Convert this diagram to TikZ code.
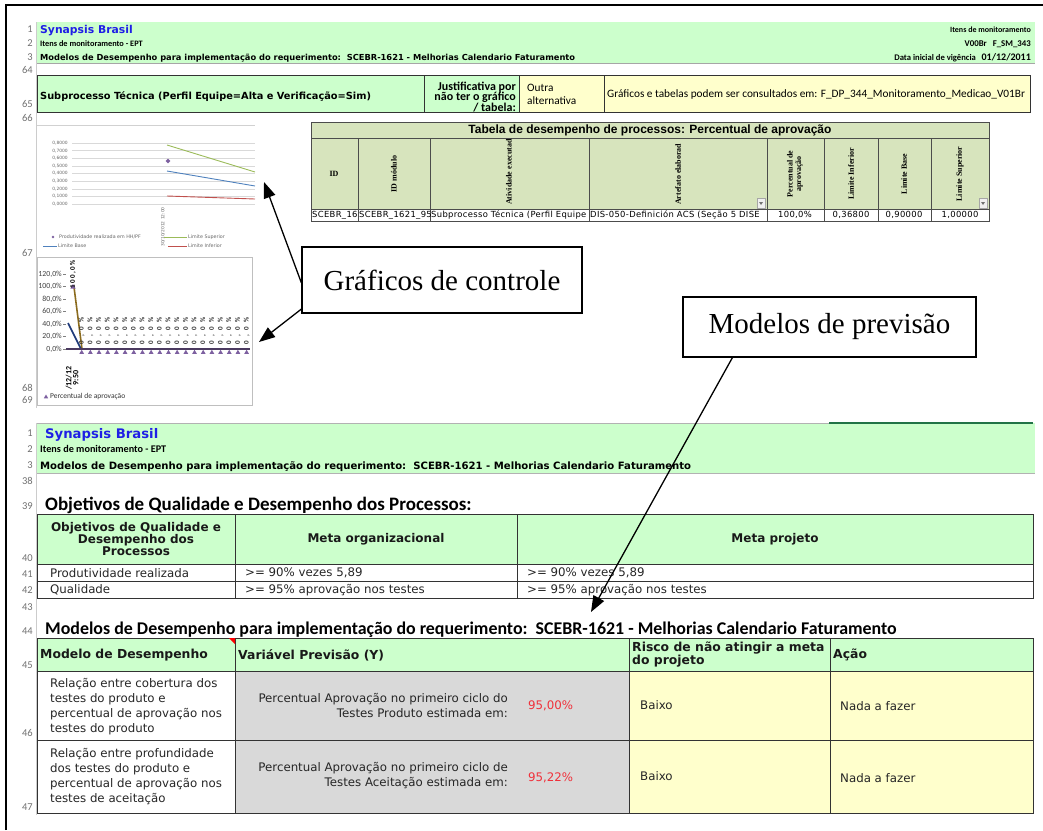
\documentclass[tikz,border=0pt]{standalone}
\usepackage{fontspec}
\setmainfont{DejaVu Sans}
\newfontfamily\calfont{Carlito}
\newfontfamily\arialfont{Liberation Sans}
\newfontfamily\timesfont{Liberation Serif}
\usetikzlibrary{arrows.meta,positioning,calc,shapes.geometric}

\definecolor{xlgreen}{HTML}{CCFFCC}
\definecolor{xlyellow}{HTML}{FFFFCC}
\definecolor{xlgrey}{HTML}{D9D9D9}
\definecolor{tabgreen}{HTML}{D7E4BD}
\definecolor{synblue}{HTML}{1F1FE6}
\definecolor{xlred}{HTML}{F0303A}
\definecolor{rowgrey}{HTML}{707070}
\definecolor{selgreen}{HTML}{217346}
\definecolor{limsup}{HTML}{9BBB59}
\definecolor{limbase}{HTML}{4F81BD}
\definecolor{liminf}{HTML}{C0504D}
\definecolor{prodpt}{HTML}{7D60A0}
\definecolor{oliveln}{HTML}{8B6B1E}
\definecolor{navyln}{HTML}{1F3A7A}

\newcommand{\fsz}[2]{\fontsize{#1}{#2}\selectfont}

\tikzset{
  rownr/.style={anchor=east,inner sep=0pt,text=rowgrey,font=\calfont\fsz{10.5}{11}},
  hdtext/.style={anchor=base west,inner sep=0pt},
  celltext/.style={anchor=west,inner sep=0pt,text=black!85,font=\fsz{11.8}{15}},
  cellhead/.style={inner sep=0pt,text=black!90,font=\bfseries\fsz{12}{12}},
  cellline/.style={draw=black!80,line width=0.8pt},
  rothead/.style={rotate=90,inner sep=0pt,font=\timesfont\bfseries\fsz{8}{8.5}},
  datacell/.style={inner sep=0pt,font=\fsz{8.4}{9}\addfontfeature{LetterSpace=4}},
  callout/.style={draw,line width=1.1pt,fill=white,inner sep=0pt,font=\timesfont\fsz{29}{34}},
  pointer/.style={-{Triangle[length=16pt,width=12pt]},line width=1.3pt},
  gridln/.style={draw=black!15,line width=0.4pt},
  tri/.style={regular polygon,regular polygon sides=3,fill=prodpt,inner sep=0pt,minimum size=6pt},
}

\begin{document}
\begin{tikzpicture}[x=1pt,y=-1pt]
\useasboundingbox (0,0) rectangle (1043,830);

% frame of the page
\draw[line width=2.6pt] (6,830) -- (6,5) -- (1043,5);
\draw[black!20] (36,22) -- (36,408) (36,423) -- (36,815);

% first sheet: header
\fill[xlgreen] (37,22) rectangle (1035,63);
\draw[black!35] (37,63) -- (1035,63);
\node[hdtext,text=synblue,font=\bfseries\fsz{10.8}{12}] (titA) at (40,33) {Synapsis Brasil};
\node[hdtext,font=\calfont\bfseries\fsz{8.3}{9}] (itA) at (40,46.5) {Itens de monitoramento - EPT};
\node[hdtext,font=\bfseries\fsz{8.3}{9}] (modA) at (40,60) {Modelos de Desempenho para implementação do requerimento:\ \ SCEBR-1621 - Melhorias Calendario Faturamento};
\node[anchor=base east,inner sep=0pt,font=\calfont\bfseries\fsz{8}{9}] (itR) at (1031,32.5) {Itens de monitoramento};
\node[anchor=base east,inner sep=0pt,font=\calfont\bfseries\fsz{8.8}{9}] (verR) at (1031,46.5) {V00Br\ \ \ F\_SM\_343};
\node[anchor=base east,inner sep=0pt,font=\calfont\bfseries\fsz{8.6}{9}] (dataR) at (1031,60) {Data inicial de vigência\ \ \ {\fsz{10}{10}01/12/2011}};

\foreach \n/\y [count=\i] in {1/29,2/43,3/57,64/70,65/104,66/118,67/253,68/388,69/400}
  \node[rownr] (ra\i) at (33,\y) {\n};

% row 65
\fill[xlgreen] (37,75) rectangle (519,112);
\fill[xlyellow] (519,75) rectangle (1030,112);
\draw[cellline] (37,75) rectangle (1030,112);
\draw[cellline] (424,75) -- (424,112) (519,75) -- (519,112) (604,75) -- (604,112);
\node[anchor=west,inner sep=0pt,font=\bfseries\fsz{9.8}{11}] (subA) at (40,97) {Subprocesso Técnica (Perfil Equipe=Alta e Verificação=Sim)};
\node[anchor=east,align=right,inner sep=0pt,font=\calfont\bfseries\fsz{12}{10.6}] (justA) at (516,97) {Justificativa por\\não ter o gráfico\\/ tabela:};
\node[anchor=west,align=left,inner sep=0pt,font=\calfont\fsz{11.3}{13}] (outA) at (527,94) {Outra\\alternativa};
\node[anchor=west,inner sep=0pt,font=\calfont\fsz{11.3}{12}] (grafA) at (607,94) {Gráficos e tabelas podem ser consultados em: F\_DP\_344\_Monitoramento\_Medicao\_V01Br};

% chart of productivity
\draw[black!18] (37,125) -- (255,125);
\foreach \k in {0,...,8}{
  \pgfmathsetmacro\yy{204-\k*7.625}
  \draw[gridln] (72,\yy) -- (255,\yy);
  \node[anchor=east,inner sep=0pt,text=black!60,font=\fsz{4.4}{5}] (ya\k) at (68,\yy) {0,\k000};
}
\draw[limsup,line width=0.9pt] (167,145) -- (255,172);
\draw[limbase,line width=0.9pt] (167,171) -- (255,186);
\draw[liminf,line width=0.9pt] (167,196) -- (255,199);
\node[diamond,fill=prodpt,inner sep=0pt,minimum size=5pt] (prodA) at (168,161) {};
\node[rotate=90,inner sep=0pt,text=black!60,font=\fsz{4.4}{5}] (dtA) at (163,227) {30/10/2012 12:00};
\node[diamond,fill=prodpt,inner sep=0pt,minimum size=3pt] (lgA) at (53,237) {};
\node[anchor=west,inner sep=0pt,text=black!60,font=\fsz{4.8}{5}] (lgAt) at (59,237) {Produtividade realizada em HH/PF};
\draw[limsup,line width=0.9pt] (164,237) -- (187,237);
\node[anchor=west,inner sep=0pt,text=black!60,font=\fsz{4.8}{5}] (lgBt) at (188,237) {Limite Superior};
\draw[limbase,line width=0.9pt] (43,246) -- (57,246);
\node[anchor=west,inner sep=0pt,text=black!60,font=\fsz{4.8}{5}] (lgCt) at (58,246) {Limite Base};
\draw[liminf,line width=0.9pt] (168,246) -- (187,246);
\node[anchor=west,inner sep=0pt,text=black!60,font=\fsz{4.8}{5}] (lgDt) at (188,246) {Limite Inferior};

% chart of approval
\draw[black!25] (37,257) rectangle (252,405);
\foreach \k in {0,...,6}{
  \pgfmathsetmacro\yy{349-\k*12.5}
  \pgfmathtruncatemacro\pc{\k*20}
  \node[anchor=east,inner sep=0pt,text=black!75,font=\calfont\fsz{7.8}{8}] (yb\k) at (62,\yy) {\pc,0\%};
  \draw[black!50] (63,\yy) -- (66,\yy);
}
\draw[oliveln,line width=1.6pt] (74,287) -- (82,349);
\draw[navyln,line width=1.6pt] (68,323) -- (81,349);
\draw[prodpt!60!black,line width=1.4pt] (66,349) -- (250,349);
\node[tri] (pa0) at (73,287) {};
\node[rotate=90,inner sep=0pt,font=\calfont\bfseries\fsz{7}{8}\addfontfeature{LetterSpace=20}] (lb0) at (73,274) {100,0\%};
\foreach \i in {1,...,20}{
  \pgfmathsetmacro\xx{73+\i*8.68}
  \node[tri,minimum size=5.5pt] (pa\i) at (\xx,352.5) {};
  \node[rotate=90,inner sep=0pt,text=black!80,font=\calfont\bfseries\fsz{7}{8}\addfontfeature{LetterSpace=60}] (lb\i) at (\xx,331) {0,0\%};
}
\node[rotate=90,align=center,inner sep=0pt,font=\calfont\bfseries\fsz{8}{7}] (xb) at (72,378) {/12/12\\9:50};
\node[tri,minimum size=5pt] (lgtri) at (46,397) {};
\node[anchor=west,inner sep=0pt,text=black!80,font=\calfont\fsz{7.5}{9}] (lgtxt) at (50,397) {Percentual de aprovação};

% table of performance
\fill[tabgreen] (311,122) rectangle (989,209);
\draw[black!70,line width=0.6pt] (311,122) rectangle (989,221);
\draw[black!70,line width=0.6pt] (311,138) -- (989,138) (311,209) -- (989,209);
\foreach \x in {358,430,589,767,824,878,931}
  \draw[black!70,line width=0.6pt] (\x,138) -- (\x,221);
\node[inner sep=0pt,font=\arialfont\bfseries\fsz{12}{13}] (tabT) at (650,130) {Tabela de desempenho de processos: Percentual de aprovação};
\node[inner sep=0pt,font=\timesfont\bfseries\fsz{8}{8.5}] (hID) at (334,174) {ID};
\node[rothead] (hMod) at (394,174) {ID módulo};
\node[rothead,anchor=west] (hAtv) at (509,205) {Atividade executad};
\node[rothead,anchor=west] (hArt) at (678,205) {Artefato elaborad};
\node[rothead,align=center] (hPct) at (795,174) {Percentual de\\aprovação};
\node[rothead] (hInf) at (851,174) {Limite Inferior};
\node[rothead] (hBas) at (904,174) {Limite Base};
\node[rothead] (hSup) at (960,174) {Limite Superior};
\foreach \x in {766,988}{
  \draw[fill=black!6,draw=black!35] (\x-9,198) rectangle (\x-1,208);
  \fill[black!55] (\x-7,202) -- (\x-3,202) -- (\x-5,205) -- cycle;
}
\node[datacell,anchor=west] (dID) at (312,215) {SCEBR\_16};
\node[datacell,anchor=west] (dMod) at (359,215) {SCEBR\_1621\_95};
\node[datacell,anchor=west] (dAtv) at (431,215) {Subprocesso Técnica (Perfil Equipe};
\node[datacell,anchor=west] (dArt) at (590,215) {DIS-050-Definición ACS (Seção 5 DISE};
\node[datacell] (dPct) at (795,215) {100,0\%};
\node[datacell] (dInf) at (851,215) {0,36800};
\node[datacell] (dBas) at (904,215) {0,90000};
\node[datacell] (dSup) at (960,215) {1,00000};

% second sheet: header
\fill[xlgreen] (37,423) rectangle (1035,473);
\draw[black!30] (37,423) -- (829,423) (37,473) -- (1035,473);
\draw[selgreen,line width=1.6pt] (829,423) -- (1033,423);
\node[hdtext,text=synblue,font=\bfseries\fsz{13.2}{14}] (titB) at (45,438) {Synapsis Brasil};
\node[hdtext,font=\calfont\bfseries\fsz{10.2}{11}] (itB) at (40,452.5) {Itens de monitoramento - EPT};
\node[hdtext,font=\bfseries\fsz{10.1}{11}] (modB) at (40,469) {Modelos de Desempenho para implementação do requerimento:\ \ SCEBR-1621 - Melhorias Calendario Faturamento};

\foreach \n/\y [count=\i] in {1/433,2/449,3/465,38/481,39/506,40/558,41/574,42/590,43/607,44/631,45/665,46/733,47/807}
  \node[rownr] (rb\i) at (33,\y) {\n};

% objectives table
\node[hdtext,font=\calfont\bfseries\fsz{19}{20}] (objT) at (45,510) {Objetivos de Qualidade e Desempenho dos Processos:};
\fill[xlgreen] (37,514) rectangle (1033,564);
\draw[cellline] (37,514) rectangle (1033,598);
\draw[cellline] (37,564) -- (1033,564) (37,581) -- (1033,581) (235,514) -- (235,598) (517,514) -- (517,598);
\node[cellhead,align=center] (oH1) at (136,539) {Objetivos de Qualidade e\\Desempenho dos\\Processos};
\node[cellhead] (oH2) at (376,539) {Meta organizacional};
\node[cellhead] (oH3) at (775,539) {Meta projeto};
\node[celltext] (oA1) at (50,573) {Produtividade realizada};
\node[celltext] (oA2) at (245,573) {>= 90\% vezes 5,89};
\node[celltext] (oA3) at (527,573) {>= 90\% vezes 5,89};
\node[celltext] (oB1) at (50,590) {Qualidade};
\node[celltext] (oB2) at (245,590) {>= 95\% aprovação nos testes};
\node[celltext] (oB3) at (527,590) {>= 95\% aprovação nos testes};

% models table
\node[hdtext,font=\calfont\bfseries\fsz{17.9}{19}] (modT) at (45,634) {Modelos de Desempenho para implementação do requerimento:\ \ SCEBR-1621 - Melhorias Calendario Faturamento};
\fill[xlgreen] (37,638) rectangle (1033,671);
\fill[xlgrey] (235,671) rectangle (629,813);
\fill[xlyellow] (629,671) rectangle (1033,813);
\draw[cellline] (37,638) rectangle (1033,813);
\draw[cellline] (37,671) -- (1033,671) (37,740) -- (1033,740) (235,638) -- (235,813) (629,638) -- (629,813) (830,638) -- (830,813);
\fill[red] (229,638) -- (235,638) -- (235,644) -- cycle;
\node[cellhead,anchor=west,font=\bfseries\fsz{12.4}{13}] (mH1) at (40,655) {Modelo de Desempenho};
\node[cellhead,anchor=west,font=\bfseries\fsz{12.4}{13}] (mH2) at (238,655) {Variável Previsão (Y)};
\node[cellhead,anchor=west,align=left,font=\bfseries\fsz{12.4}{13}] (mH3) at (632,655) {Risco de não atingir a meta\\do projeto};
\node[cellhead,anchor=west,font=\bfseries\fsz{12.4}{13}] (mH4) at (833,655) {Ação};
\node[celltext,align=left] (mA1) at (50,707) {Relação entre cobertura dos\\testes do produto e\\percentual de aprovação nos\\testes do produto};
\node[celltext,anchor=east,align=right] (mA2) at (508,705) {Percentual Aprovação no primeiro ciclo do\\Testes Produto estimada em:};
\node[celltext,text=xlred] (mA3) at (528,706) {95,00\%};
\node[celltext] (mA4) at (640,705) {Baixo};
\node[celltext] (mA5) at (840,706) {Nada a fazer};
\node[celltext,align=left] (mB1) at (50,777) {Relação entre profundidade\\dos testes do produto e\\percentual de aprovação nos\\testes de aceitação};
\node[celltext,anchor=east,align=right] (mB2) at (508,776) {Percentual Aprovação no primeiro ciclo de\\Testes Aceitação estimada em:};
\node[celltext,text=xlred] (mB3) at (528,778) {95,22\%};
\node[celltext] (mB4) at (640,776) {Baixo};
\node[celltext] (mB5) at (840,778) {Nada a fazer};

% callouts
\node[callout,minimum width=280pt,minimum height=66pt] (ctrlbox) at (442,280) {Gráficos de controle};
\node[callout,minimum width=293pt,minimum height=60pt] (prevbox) at (829.5,327) {Modelos de previsão};
\coordinate (chartA) at (264,182);
\coordinate (chartB) at (259,342);
\coordinate (tabB) at (591,612);
\draw[pointer] ([yshift=-3pt]ctrlbox.west) -- (chartA);
\draw[pointer] ([yshift=-29pt]ctrlbox.west) -- (chartB);
\draw[pointer] ($(prevbox.south west)!0.17!(prevbox.south east)$) -- (tabB);
\end{tikzpicture}
\end{document}
